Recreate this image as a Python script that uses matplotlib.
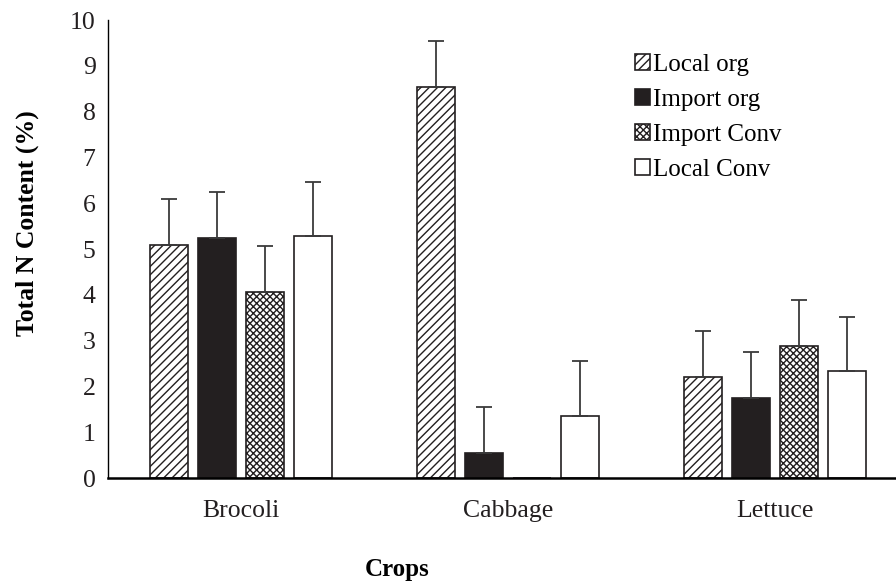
import numpy as np
import matplotlib.pyplot as plt

crops = ['Brocoli', 'Cabbage', 'Lettuce']
series = ['Local org', 'Import org', 'Import Conv', 'Local Conv']
local_org = [5.09, 8.54, 2.20]
import_org = [5.24, 0.55, 1.75]
import_conv = [4.06, 0.0, 2.88]
local_conv = [5.28, 1.35, 2.34]
err_local_org = [1.0, 1.0, 1.0]
err_import_org = [1.0, 1.0, 1.0]
err_import_conv = [1.0, 0.0, 1.0]
err_local_conv = [1.18, 1.2, 1.18]

plt.rcParams['font.family'] = ['Liberation Serif', 'DejaVu Serif']
plt.rcParams['hatch.linewidth'] = 1.0

fig = plt.figure(figsize=(8.96, 5.83), dpi=100)
ax = fig.add_axes([108/896, 0.180, 800/896, 0.7856])

x = np.arange(len(crops))
w = 0.143
step = 0.18
vals = [local_org, import_org, import_conv, local_conv]
errs = [err_local_org, err_import_org, err_import_conv, err_local_conv]
styles = [
    dict(color='white', hatch='////', edgecolor='#231f20'),
    dict(color='#231f20', edgecolor='#231f20'),
    dict(color='white', hatch='xxxxx', edgecolor='#231f20'),
    dict(color='white', edgecolor='#231f20'),
]
for i, (v, e, st) in enumerate(zip(vals, errs, styles)):
    pos = x + (i - 1.5) * step
    ax.bar(pos, v, w, label=series[i], linewidth=1.2, **st)
    ax.errorbar(pos, v, yerr=[np.zeros(len(e)), e], fmt='none',
                ecolor='#3a3a3a', elinewidth=1.3, capsize=6, capthick=1.3)

ax.set_xlim(-0.5, 2.5)
ax.set_ylim(0, 10)
ax.set_yticks(range(0, 11))
ax.set_xticks(x)
ax.set_xticklabels(crops)
ax.tick_params(axis='both', length=0, labelsize=18.5, colors='#231f20')
ax.tick_params(axis='y', pad=9)
ax.tick_params(axis='x', pad=16)
ax.spines['top'].set_visible(False)
ax.spines['right'].set_visible(False)
ax.spines['left'].set_linewidth(1.0)
ax.spines['bottom'].set_linewidth(1.8)

ax.set_ylabel('Total N Content (%)', fontsize=18.5, fontweight='bold')
ax.yaxis.set_label_coords(-0.086, 0.556)
ax.set_xlabel('Crops', fontsize=18, fontweight='bold', va='center')
ax.xaxis.set_label_coords(0.361, -0.199)

ax.legend(loc='upper left', bbox_to_anchor=(0.63, 0.975), frameon=False,
          fontsize=18, handlelength=0.6, handleheight=0.6, handletextpad=0.15,
          labelspacing=0.52)

fig.savefig('out.png', dpi=100)
